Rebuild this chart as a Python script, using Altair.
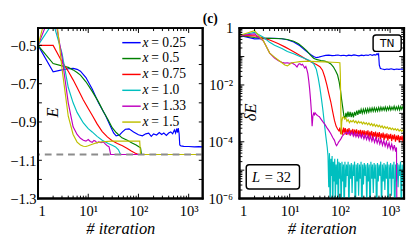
import altair as alt
import pandas as pd

SERIF = "Liberation Serif"
W, H = 170, 176

names = ["0.25", "0.5", "0.75", "1.0", "1.33", "1.5"]
colors = ["#0000ff", "#008000", "#ff0000", "#00bfbf", "#bf00bf", "#bfbf00"]
E_exact = -1.07

E_blue = [(1, -0.5), (2, -0.638), (3, -0.628), (4, -0.622), (5, -0.62), (6, -0.625), (7, -0.635),
          (9, -0.668), (12, -0.728), (16, -0.80), (22, -0.865), (28, -0.925), (32, -0.957),
          (36, -0.972), (42, -0.968), (48, -0.952), (55, -0.938), (65, -0.936), (80, -0.952),
          (100, -0.967), (120, -0.972), (140, -0.962), (160, -0.958), (180, -0.975), (200, -0.962),
          (230, -0.968), (260, -0.955), (290, -0.965), (320, -0.958), (360, -0.97), (400, -0.958),
          (440, -0.952), (480, -0.962), (520, -0.942), (550, -0.958), (575, -0.935), (600, -0.955),
          (620, -0.932), (645, -0.96), (665, -1.02), (700, -1.025), (800, -1.027), (1000, -1.028),
          (1300, -1.03), (1600, -1.029), (1900, -1.03)]
E_green = [(1, -0.5), (2, -0.595), (3, -0.607), (4, -0.615), (5, -0.628), (6, -0.642), (7, -0.655),
           (9, -0.69), (12, -0.74), (16, -0.795), (20, -0.845), (25, -0.89), (30, -0.93),
           (36, -0.955), (47, -0.983), (60, -0.995), (73, -1.008), (90, -1.02), (100, -1.028),
           (110, -1.035), (115, -1.07), (1900, -1.07)]
E_red = [(1, -0.5), (2, -0.5), (3, -0.585), (4, -0.635), (5, -0.68), (6, -0.72), (8, -0.785),
         (10, -0.83), (12, -0.865), (15, -0.91), (19, -0.95), (24, -0.978), (30, -0.998),
         (38, -1.012), (48, -1.024), (60, -1.038), (72, -1.052), (85, -1.062), (100, -1.07),
         (1900, -1.07)]
E_cyan = [(1, -0.5), (2, -0.38), (3, -0.54), (4, -0.72), (5, -0.80), (6, -0.85), (7, -0.88),
          (8, -0.905), (10, -0.935), (12, -0.952), (15, -0.975), (19, -0.995), (25, -1.012),
          (30, -1.022), (35, -1.03), (40, -1.045), (44, -1.07), (1900, -1.07)]
E_magenta = [(1, -0.5), (2, -0.3), (3, -0.56), (4, -0.80), (5, -0.925), (6, -0.965), (7, -0.985),
             (8, -0.995), (9, -1.0), (10, -0.992), (11, -1.002), (12, -1.006), (13, -0.996),
             (14, -1.0), (15, -1.01), (16, -1.004), (18, -1.008), (20, -1.004), (22, -1.016),
             (24, -1.024), (26, -1.03), (28, -1.07), (1900, -1.07)]
E_yellow = [(1, -0.5), (2, -0.2), (3, -0.62), (4, -0.87), (5, -0.965), (6, -1.005), (7, -1.02),
            (8, -1.027), (9, -1.028), (10, -1.024), (12, -1.016), (15, -1.008), (19, -1.003),
            (30, -1.0), (60, -1.0), (106, -1.0), (110, -1.07), (1900, -1.07)]

lg_blue = [(1, -0.26), (2, -0.38), (3, -0.37), (4, -0.36), (5, -0.36), (6, -0.365), (7, -0.375),
           (9, -0.41), (12, -0.49), (16, -0.62), (21, -0.8), (26, -0.93), (30, -1.0), (34, -1.04),
           (38, -1.02), (44, -0.99), (52, -0.96), (60, -0.95), (70, -0.97), (80, -0.96),
           (92, -0.945), (105, -0.97), (120, -0.955), (135, -0.975), (150, -0.95), (170, -0.965),
           (190, -0.94), (215, -0.96), (240, -0.975), (270, -0.95), (300, -0.965), (330, -0.945),
           (365, -0.96), (400, -0.93), (440, -0.955), (480, -0.935), (520, -0.95), (550, -0.9),
           (575, -0.94), (590, -0.91), (610, -1.3), (640, -1.42), (700, -1.44), (780, -1.46),
           (860, -1.44), (950, -1.45), (1050, -1.43), (1200, -1.46), (1350, -1.44), (1500, -1.45),
           (1700, -1.44), (1900, -1.455)]
lg_green = [(1, -0.26), (2, -0.33), (3, -0.35), (4, -0.36), (5, -0.365), (7, -0.375), (9, -0.4),
            (12, -0.46), (15, -0.55), (18, -0.66), (22, -0.8), (26, -0.95), (30, -1.06),
            (35, -1.11), (42, -1.14), (50, -1.16), (58, -1.2), (66, -1.26), (74, -1.36),
            (82, -1.5), (90, -1.65), (97, -1.9), (103, -2.2), (108, -2.5), (114, -2.8),
            (120, -3.08), (126, -3.2), (132, -2.98), (138, -3.14), (145, -2.94), (152, -3.12),
            (160, -2.95), (168, -3.13), (177, -2.97), (186, -3.14), (196, -2.95), (206, -3.08),
            (217, -2.9), (228, -3.05), (240, -2.88), (252, -3.02), (265, -2.86), (279, -3.0),
            (293, -2.85), (308, -2.98), (324, -2.84), (341, -2.97), (358, -2.83), (377, -2.96),
            (396, -2.82), (417, -2.94), (438, -2.81), (461, -2.93), (485, -2.8), (510, -2.93),
            (536, -2.81), (564, -2.92), (593, -2.79), (624, -2.91), (656, -2.78), (690, -2.9),
            (726, -2.79), (763, -2.89), (803, -2.77), (845, -2.9), (889, -2.78), (935, -2.88),
            (983, -2.76), (1034, -2.89), (1088, -2.78), (1144, -2.87), (1203, -2.75),
            (1266, -2.88), (1331, -2.77), (1400, -2.87), (1473, -2.75), (1549, -2.88),
            (1630, -2.76), (1714, -2.86), (1803, -2.75), (1900, -2.84)]
lg_red = [(1, -0.26), (2, -0.27), (3, -0.35), (4, -0.42), (5, -0.49), (6, -0.55), (8, -0.66),
          (10, -0.75), (13, -0.87), (17, -0.99), (22, -1.11), (28, -1.21), (34, -1.28),
          (40, -1.36), (45, -1.48), (50, -1.72), (55, -2.0), (60, -2.3), (66, -2.6), (72, -2.95),
          (78, -3.25), (84, -3.45), (90, -3.55), (96, -3.62), (100, -3.5), (104, -3.72),
          (108, -3.55), (113, -3.75), (118, -3.5), (123, -3.68), (128, -3.52), (134, -3.76),
          (140, -3.55), (146, -3.7), (152, -3.52), (159, -3.78), (166, -3.58), (173, -3.72),
          (181, -3.55), (189, -3.8), (197, -3.57), (206, -3.74), (215, -3.56), (225, -3.8),
          (235, -3.6), (245, -3.76), (256, -3.58), (267, -3.82), (279, -3.6), (291, -3.77),
          (304, -3.6), (318, -3.84), (332, -3.62), (347, -3.78), (362, -3.6), (378, -3.86),
          (395, -3.64), (412, -3.8), (431, -3.62), (450, -3.88), (470, -3.66), (491, -3.82),
          (513, -3.64), (536, -3.9), (560, -3.68), (585, -3.84), (611, -3.66), (638, -3.92),
          (666, -3.7), (696, -3.86), (727, -3.68), (759, -3.94), (793, -3.72), (828, -3.88),
          (865, -3.7), (903, -3.96), (943, -3.74), (985, -3.9), (1029, -3.72), (1075, -3.98),
          (1122, -3.76), (1172, -3.92), (1224, -3.74), (1279, -4.0), (1335, -3.78), (1395, -3.94),
          (1457, -3.76), (1521, -4.02), (1589, -3.8), (1659, -3.95), (1733, -3.78), (1810, -4.02),
          (1900, -3.82)]
lg_cyan = [(1, -0.26), (2, -0.15), (3, -0.32), (4, -0.5), (5, -0.6), (7, -0.72), (9, -0.82),
           (12, -0.9), (16, -1.0), (20, -1.07), (25, -1.14), (30, -1.25), (34, -1.45), (37, -1.75),
           (40, -2.1), (43, -2.5), (46, -2.9), (49, -3.35), (52, -3.75), (56, -4.2), (58, -4.5),
           (60, -5.6), (62, -4.4), (64, -6.5), (66, -4.6), (68, -5.2), (70, -4.5), (72, -7.0),
           (74, -4.7), (76, -5.4), (79, -4.6), (81, -6.2), (84, -4.8), (87, -5.5), (90, -4.6),
           (93, -7.0), (96, -4.7), (99, -5.3), (102, -4.75), (106, -6.4), (110, -4.7),
           (114, -5.4), (118, -4.8), (122, -7.0), (126, -4.7), (131, -5.6), (136, -4.8),
           (141, -5.2), (146, -4.7), (151, -6.6), (157, -4.8), (163, -5.3), (169, -4.75),
           (175, -5.8), (182, -4.8), (189, -5.2), (196, -4.7), (203, -7.0), (211, -4.8),
           (219, -5.4), (227, -4.75), (236, -5.9), (245, -4.8), (254, -5.3), (264, -4.7),
           (274, -7.0), (284, -4.8), (295, -5.5), (306, -4.75), (318, -5.2), (330, -4.8),
           (343, -6.3), (356, -4.75), (370, -5.4), (384, -4.8), (399, -7.0), (414, -4.7),
           (430, -5.3), (446, -4.8), (463, -5.8), (481, -4.75), (500, -5.3), (519, -4.8),
           (539, -7.0), (560, -4.75), (581, -5.4), (604, -4.8), (627, -5.2), (651, -4.7),
           (676, -6.5), (702, -4.8), (729, -5.4), (757, -4.75), (786, -5.7), (817, -4.8),
           (848, -5.3), (881, -4.7), (915, -7.0), (950, -4.8), (987, -5.3), (1025, -4.75),
           (1064, -5.9), (1105, -4.8), (1148, -5.3), (1192, -4.7), (1238, -7.0), (1286, -4.8),
           (1336, -5.4), (1387, -4.75), (1441, -5.6), (1496, -4.8), (1554, -5.2), (1614, -4.7),
           (1676, -6.8), (1741, -4.8), (1808, -5.4), (1878, -4.75), (1900, -5.0)]
lg_magenta = [(1, -0.26), (2, -0.2), (3, -0.45), (4, -0.88), (5, -1.05), (6, -1.15), (7, -1.2),
              (8, -1.23), (9, -1.22), (10, -1.24), (11, -1.22), (12, -1.26), (13, -1.3),
              (14, -1.37), (15, -1.27), (16, -1.25), (17, -1.3), (18, -1.27), (19, -1.34),
              (20, -1.4), (21, -1.35), (22, -1.46), (23, -1.6), (24, -1.85), (25, -2.15),
              (26, -2.5), (27, -2.9), (28, -3.45), (29, -3.1), (30, -3.0), (31, -3.05),
              (32, -2.98), (34, -3.04), (36, -3.08), (39, -3.12), (42, -3.2), (46, -3.3),
              (50, -3.38), (55, -3.5), (60, -3.6), (66, -3.72), (72, -3.85), (78, -3.95),
              (83, -4.1), (86, -4.14), (90, -4.08), (95, -4.0), (100, -3.95), (106, -3.88),
              (112, -3.8), (120, -3.74), (128, -3.7), (136, -3.66), (145, -3.74), (154, -3.64),
              (164, -3.76), (174, -3.66), (185, -3.8), (197, -3.68), (209, -3.82), (222, -3.7),
              (236, -3.84), (251, -3.72), (267, -3.86), (283, -3.74), (301, -3.9), (320, -3.76),
              (340, -3.92), (361, -3.78), (384, -3.95), (408, -3.8), (434, -3.98), (461, -3.84),
              (490, -4.02), (520, -3.86), (553, -4.05), (588, -3.9), (624, -4.08), (663, -3.92),
              (705, -4.12), (749, -3.96), (796, -4.15), (845, -4.0), (898, -4.2), (954, -4.04),
              (1014, -4.24), (1077, -4.08), (1144, -4.28), (1215, -4.12), (1290, -4.35),
              (1340, -4.2), (1370, -7.0), (1900, -7.0)]
lg_yellow = [(1, -0.26), (2, -0.09), (3, -0.45), (4, -0.88), (5, -1.02), (6, -1.13), (7, -1.22),
             (8, -1.3), (9, -1.33), (10, -1.27), (11, -1.22), (13, -1.2), (16, -1.18), (20, -1.17),
             (26, -1.17), (35, -1.18), (50, -1.19), (70, -1.2), (90, -1.21), (100, -1.22),
             (102, -1.6), (104, -2.6), (106, -3.75), (109, -3.3), (113, -3.15), (118, -3.12),
             (124, -3.2), (131, -3.15), (138, -3.28), (146, -3.22), (155, -3.33), (164, -3.26),
             (174, -3.3), (185, -3.24), (196, -3.32), (208, -3.27), (221, -3.35), (235, -3.28),
             (249, -3.34), (265, -3.3), (281, -3.37), (298, -3.31), (317, -3.38), (336, -3.33),
             (357, -3.4), (379, -3.34), (403, -3.42), (428, -3.36), (454, -3.44), (482, -3.38),
             (512, -3.46), (544, -3.4), (578, -3.47), (614, -3.42), (652, -3.5), (692, -3.44),
             (735, -3.52), (781, -3.46), (829, -3.53), (881, -3.48), (935, -3.55), (993, -3.5),
             (1055, -3.57), (1120, -3.52), (1190, -3.58), (1264, -3.54), (1342, -3.6),
             (1425, -3.55), (1514, -3.62), (1608, -3.57), (1708, -3.63), (1814, -3.58),
             (1900, -3.62)]

E_series = [E_blue, E_green, E_red, E_cyan, E_magenta, E_yellow]
lg_series = [lg_blue, lg_green, lg_red, lg_cyan, lg_magenta, lg_yellow]

x_major = [1, 10, 100, 1000]
x_minor = [2, 3, 4, 5, 6, 7, 8, 9, 20, 30, 40, 50, 60, 70, 80, 90,
           200, 300, 400, 500, 600, 700, 800, 900]
E_ticks = [-1.3, -1.2, -1.1, -1.0, -0.9, -0.8, -0.7, -0.6, -0.5]
E_labels = [-1.3, -1.1, -0.9, -0.7, -0.5]
dE_major = [1e-6, 1e-5, 1e-4, 1e-3, 1e-2, 1e-1, 1.0]
dE_labels = [1e-6, 1e-4, 1e-2, 1.0]
dE_minor = [m * 10.0 ** k for k in range(-6, 0) for m in range(2, 10)]

xs = alt.Scale(type="log", domain=[1, 1900])
ysE = alt.Scale(domain=[-1.3, -0.41])
ysD = alt.Scale(type="log", domain=[1e-6, 1])

xaxis = alt.Axis(values=x_major, ticks=False, domain=False, grid=False,
                 labelExpr="datum.value == 1 ? '1' : datum.value == 10 ? '10¹' : datum.value == 100 ? '10²' : '10³'",
                 labelPadding=5, labelFont=SERIF, labelFontSize=15, labelColor="black",
                 title="# iteration", titleFont=SERIF, titleFontStyle="italic",
                 titleFontWeight="normal", titleFontSize=17, titleColor="black", titlePadding=3)
yaxisE = alt.Axis(values=E_labels, format=".1f", ticks=False, domain=False, grid=False,
                  labelPadding=2, labelFont=SERIF, labelFontSize=15, labelColor="black", title=None)
yaxisD = alt.Axis(values=dE_labels, ticks=False, domain=False, grid=False,
                  labelExpr="datum.value >= 0.5 ? '1' : datum.value >= 0.005 ? '10⁻²' : datum.value >= 0.00005 ? '10⁻⁴' : '10⁻⁶'",
                  labelPadding=7, labelFont=SERIF, labelFontSize=15, labelColor="black", title=None)

ANN = alt.Data(values=[{}])


def X():
    return alt.X("it:Q", scale=xs, axis=xaxis)


def xticks():
    layers = []
    for vals, L in ((x_major, 5), (x_minor, 3)):
        df = pd.DataFrame({"it": vals})
        layers.append(alt.Chart(df).mark_rule(color="black", strokeWidth=1, clip=True).encode(
            x=X(), y=alt.value(H), y2=alt.value(H - L)))
        layers.append(alt.Chart(df).mark_rule(color="black", strokeWidth=1, clip=True).encode(
            x=X(), y=alt.value(0), y2=alt.value(L)))
    return layers


def frame():
    out = []
    for x1, x2, y1, y2 in ((0, W, 0, 0), (0, W, H, H), (0, 0, 0, H), (W, W, 0, H)):
        out.append(alt.Chart(ANN).mark_rule(color="black", strokeWidth=2, strokeCap="square").encode(
            x=alt.value(x1), x2=alt.value(x2), y=alt.value(y1), y2=alt.value(y2)))
    return out


left_layers = []
for pairs, col in zip(E_series, colors):
    df = pd.DataFrame(pairs, columns=["it", "E"])
    left_layers.append(alt.Chart(df).mark_line(color=col, strokeWidth=1.2, clip=True).encode(
        x=X(), y=alt.Y("E:Q", scale=ysE, axis=yaxisE)))

left_layers.append(alt.Chart(pd.DataFrame({"E": [E_exact]})).mark_rule(
    color="#8c8c8c", strokeWidth=2, strokeDash=[7, 5]).encode(
    y=alt.Y("E:Q", scale=ysE, axis=yaxisE)))

left_layers += xticks()
dfE = pd.DataFrame({"E": E_ticks})
left_layers.append(alt.Chart(dfE).mark_rule(color="black", strokeWidth=1).encode(
    y=alt.Y("E:Q", scale=ysE, axis=yaxisE), x=alt.value(0), x2=alt.value(4)))
left_layers.append(alt.Chart(dfE).mark_rule(color="black", strokeWidth=1).encode(
    y=alt.Y("E:Q", scale=ysE, axis=yaxisE), x=alt.value(W), x2=alt.value(W - 4)))

for i, (nm, col) in enumerate(zip(names, colors)):
    yy = 15 + 16.4 * i
    left_layers.append(alt.Chart(ANN).mark_rule(color=col, strokeWidth=1.5).encode(
        x=alt.value(87), x2=alt.value(106), y=alt.value(yy)))
    left_layers.append(alt.Chart(ANN).mark_text(
        text="x", font=SERIF, fontStyle="italic", fontSize=14, align="left", baseline="middle",
        color="black").encode(x=alt.value(108), y=alt.value(yy)))
    left_layers.append(alt.Chart(ANN).mark_text(
        text="= " + nm, font=SERIF, fontSize=14, align="left", baseline="middle",
        color="black").encode(x=alt.value(117), y=alt.value(yy)))

left_layers.append(alt.Chart(ANN).mark_text(
    text="E", font=SERIF, fontStyle="italic", fontSize=17, angle=270, align="center",
    baseline="middle", color="black").encode(x=alt.value(16), y=alt.value(87)))
left_layers += frame()

left = alt.layer(*left_layers).properties(width=W, height=H)

right_layers = []
for pairs, col in zip(lg_series, colors):
    df = pd.DataFrame(pairs, columns=["it", "lg"])
    df["dE"] = 10.0 ** df["lg"]
    right_layers.append(alt.Chart(df).mark_line(color=col, strokeWidth=1.2, clip=True).encode(
        x=X(), y=alt.Y("dE:Q", scale=ysD, axis=yaxisD)))

right_layers += xticks()
for vals, L in ((dE_major, 5), (dE_minor, 3)):
    df = pd.DataFrame({"dE": vals})
    right_layers.append(alt.Chart(df).mark_rule(color="black", strokeWidth=1).encode(
        y=alt.Y("dE:Q", scale=ysD, axis=yaxisD), x=alt.value(0), x2=alt.value(L)))
    right_layers.append(alt.Chart(df).mark_rule(color="black", strokeWidth=1).encode(
        y=alt.Y("dE:Q", scale=ysD, axis=yaxisD), x=alt.value(W), x2=alt.value(W - L)))

right_layers.append(alt.Chart(ANN).mark_rect(
    fill="white", stroke="black", strokeWidth=1.5, cornerRadius=3).encode(
    x=alt.value(138), x2=alt.value(167), y=alt.value(7), y2=alt.value(24)))
right_layers.append(alt.Chart(ANN).mark_text(
    text="TN", font="DejaVu Sans", fontSize=11, align="center", baseline="middle",
    color="black").encode(x=alt.value(152.5), y=alt.value(16)))
right_layers.append(alt.Chart(ANN).mark_rect(
    fill="white", stroke="black", strokeWidth=1.5, cornerRadius=3).encode(
    x=alt.value(7), x2=alt.value(62), y=alt.value(141), y2=alt.value(166)))
right_layers.append(alt.Chart(ANN).mark_text(
    text="L", font=SERIF, fontStyle="italic", fontSize=15, align="left", baseline="middle",
    color="black").encode(x=alt.value(13), y=alt.value(153.5)))
right_layers.append(alt.Chart(ANN).mark_text(
    text="= 32", font=SERIF, fontSize=15, align="left", baseline="middle",
    color="black").encode(x=alt.value(26), y=alt.value(153.5)))
right_layers.append(alt.Chart(ANN).mark_text(
    text="δE", font=SERIF, fontStyle="italic", fontSize=17, angle=270, align="center",
    baseline="middle", color="black").encode(x=alt.value(12.5), y=alt.value(87)))
right_layers.append(alt.Chart(ANN).mark_text(
    text="(c)", font=SERIF, fontWeight="bold", fontSize=14, align="left", baseline="top",
    color="black").encode(x=alt.value(-38), y=alt.value(-16)))
right_layers += frame()

right = alt.layer(*right_layers).properties(width=W, height=H)

chart = alt.hconcat(left, right, spacing=38, bounds="flush", padding=0,
                    background="white").configure_view(stroke="black", strokeWidth=2)

chart.save("out.html", embed_options={"renderer": "svg", "actions": False})
